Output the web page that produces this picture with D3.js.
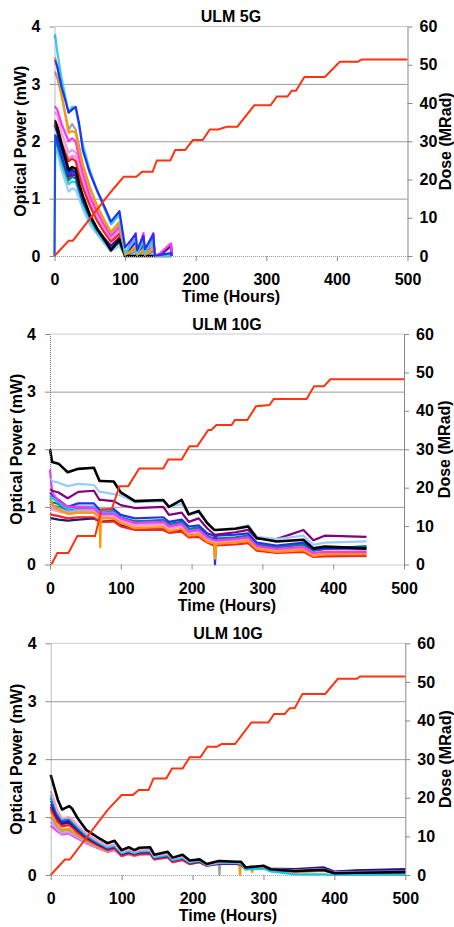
<!DOCTYPE html>
<html>
<head>
<meta charset="utf-8">
<script src="https://cdn.jsdelivr.net/npm/d3@7"></script>
<style>
  body { margin: 0; background: #fff; }
  svg text { font-family: "Liberation Sans", Arial, sans-serif; font-weight: bold; fill: #000; }
</style>
</head>
<body>
<div id="chart"></div>
<script>
// ======= Data: ULM 5G =======
var t1 = [0, 1, 4, 10, 20, 25, 30, 35, 40, 50, 60, 70, 80, 92, 100, 115, 117, 126, 128, 140, 142, 150, 165, 166];
var p1_skyblue  = [3.8, 3.85, 3.55, 3.1, 2.5, 2.6, 2.58, 2.25, 1.95, 1.5, 1.15, 0.85, 0.55, 0.72, 0.05, 0.3, 0.05, 0.25, 0.05, 0.28, 0, 0, 0, 0];
var p1_blue     = [3.4, 3.4, 3.3, 2.95, 2.5, 2.55, 2.6, 2.3, 1.85, 1.45, 1.15, 0.88, 0.6, 0.78, 0.15, 0.38, 0.1, 0.35, 0.12, 0.38, 0, 0.02, 0.05, 0];
var p1_orange   = [3.45, 3.45, 3.3, 2.8, 2.15, 2.18, 2.15, 1.85, 1.58, 1.18, 0.88, 0.64, 0.42, 0.6, 0.02, 0.15, 0.02, 0.12, 0.02, 0.15, 0, 0, 0, 0];
var p1_gray     = [3.2, 3.2, 3.1, 2.8, 2.2, 2.3, 2.2, 1.9, 1.6, 1.2, 0.88, 0.62, 0.4, 0.55, 0.02, 0.1, 0, 0.1, 0, 0.12, 0, 0, 0, 0];
var p1_magenta  = [2.6, 2.6, 2.55, 2.3, 2.0, 2.05, 2.0, 1.7, 1.45, 1.05, 0.78, 0.55, 0.35, 0.5, 0.02, 0.4, 0.05, 0.4, 0.05, 0.4, 0, 0.05, 0.22, 0];
var p1_pink     = [2.5, 2.5, 2.45, 2.15, 1.8, 1.85, 1.8, 1.55, 1.35, 1.0, 0.72, 0.5, 0.32, 0.45, 0.02, 0.2, 0.02, 0.2, 0.02, 0.22, 0, 0.02, 0.15, 0];
var p1_lavender = [2.3, 2.3, 2.25, 2.0, 1.7, 1.75, 1.72, 1.5, 1.3, 0.95, 0.7, 0.48, 0.3, 0.42, 0.02, 0.2, 0.02, 0.2, 0.02, 0.2, 0, 0.05, 0.2, 0];
var p1_red      = [2.25, 2.3, 2.2, 1.95, 1.65, 1.7, 1.65, 1.4, 1.2, 0.88, 0.62, 0.42, 0.25, 0.38, 0.01, 0.1, 0, 0.1, 0, 0.1, 0, 0, 0, 0];
var p1_black    = [2.35, 2.35, 2.25, 1.95, 1.5, 1.55, 1.52, 1.25, 1.05, 0.72, 0.48, 0.3, 0.1, 0.28, 0, 0, 0, 0, 0, 0, 0, 0, 0, 0];
var p1_navy     = [2.25, 2.25, 2.15, 1.85, 1.45, 1.5, 1.45, 1.2, 1.0, 0.7, 0.48, 0.3, 0.15, 0.3, 0.02, 0.25, 0.02, 0.22, 0.02, 0.3, 0, 0.02, 0.18, 0];
var p1_purple   = [2.1, 2.1, 2.05, 1.75, 1.38, 1.42, 1.4, 1.18, 0.98, 0.7, 0.48, 0.32, 0.18, 0.32, 0.02, 0.2, 0.02, 0.25, 0.02, 0.3, 0, 0.02, 0.2, 0];
var p1_teal     = [2.0, 2.0, 1.95, 1.7, 1.32, 1.38, 1.35, 1.15, 0.95, 0.68, 0.46, 0.3, 0.15, 0.25, 0.02, 0.15, 0.02, 0.15, 0.02, 0.2, 0, 0, 0, 0];
var p1_aqua     = [1.95, 1.95, 1.9, 1.6, 1.25, 1.3, 1.28, 1.1, 0.9, 0.62, 0.42, 0.26, 0.12, 0.22, 0.01, 0.08, 0, 0.08, 0, 0.1, 0, 0, 0, 0];
var p1_lightblue= [1.85, 1.85, 1.8, 1.5, 1.12, 1.18, 1.15, 1.0, 0.82, 0.55, 0.38, 0.22, 0.08, 0.18, 0, 0.05, 0, 0.05, 0, 0.05, 0, 0, 0, 0];
var p1_royal    = [0, 2.1, 2.0, 1.78, 1.42, 1.46, 1.44, 1.2, 1.0, 0.7, 0.47, 0.3, 0.14, 0.28, 0.01, 0.12, 0.01, 0.12, 0.01, 0.15, 0, 0, 0, 0];
var dose1Time = [0, 20, 26, 80, 98, 116, 124, 139, 145, 164, 171, 185, 196, 210, 220, 232, 244, 259, 283, 306, 315, 330, 336, 342, 354, 383, 404, 430, 435, 500];
var dose1     = [0, 4, 4, 16.8, 20.7, 20.7, 22, 22, 25, 25, 27.7, 27.7, 30.3, 30.3, 33.1, 33.1, 33.8, 33.8, 39.4, 39.4, 41.7, 41.7, 43.2, 43.2, 46.8, 46.8, 50.8, 50.8, 51.4, 51.4];

// ======= Data: ULM 10G (first) =======
var t2 = [0, 3, 12, 25, 40, 62, 70, 71, 72, 90, 100, 120, 160, 168, 186, 196, 210, 222, 232, 233, 235, 262, 280, 292, 320, 358, 372, 388, 447];
var p2_black    = [2.0, 1.78, 1.75, 1.6, 1.66, 1.68, 1.45, 1.45, 1.45, 1.44, 1.25, 1.1, 1.12, 1.0, 1.12, 0.87, 0.93, 0.72, 0.6, 0.6, 0.6, 0.62, 0.66, 0.46, 0.4, 0.43, 0.28, 0.31, 0.28];
var p2_lightblue= [1.5, 1.45, 1.42, 1.36, 1.4, 1.38, 1.26, 1.26, 1.26, 1.22, 1.2, 1.08, 1.1, 1.0, 1.05, 0.86, 0.9, 0.72, 0.6, 0.6, 0.6, 0.63, 0.68, 0.48, 0.44, 0.5, 0.34, 0.38, 0.4];
var p2_purple   = [1.3, 1.28, 1.25, 1.15, 1.26, 1.28, 1.12, 1.12, 1.12, 1.1, 1.03, 0.98, 1.0, 0.86, 0.9, 0.74, 0.8, 0.63, 0.52, 0.52, 0.52, 0.56, 0.6, 0.45, 0.44, 0.6, 0.42, 0.5, 0.48];
var p2_blue     = [1.25, 1.2, 1.12, 1.0, 1.06, 1.06, 0.95, 0.95, 0.95, 0.96, 0.86, 0.8, 0.82, 0.74, 0.78, 0.66, 0.68, 0.54, 0.5, 0.0, 0.5, 0.52, 0.54, 0.38, 0.33, 0.38, 0.26, 0.28, 0.27];
var p2_teal     = [1.1, 1.08, 1.05, 0.95, 1.0, 1.0, 0.9, 0.9, 0.9, 0.92, 0.82, 0.75, 0.77, 0.7, 0.74, 0.62, 0.64, 0.5, 0.45, 0.45, 0.45, 0.47, 0.5, 0.34, 0.3, 0.35, 0.24, 0.27, 0.32];
var p2_cyan     = [1.2, 1.15, 1.08, 0.96, 1.0, 1.0, 0.9, 0.9, 0.9, 0.9, 0.8, 0.72, 0.74, 0.66, 0.7, 0.58, 0.6, 0.46, 0.41, 0.41, 0.41, 0.43, 0.46, 0.3, 0.26, 0.28, 0.16, 0.18, 0.14];
var p2_orange   = [1.15, 1.05, 0.95, 0.88, 0.9, 0.9, 0.8, 0.3, 0.8, 0.8, 0.72, 0.63, 0.65, 0.58, 0.62, 0.5, 0.52, 0.4, 0.36, 0.1, 0.36, 0.38, 0.41, 0.27, 0.22, 0.25, 0.15, 0.18, 0.18];
var p2_gray     = [1.0, 0.98, 0.96, 0.92, 0.95, 0.95, 0.86, 0.86, 0.86, 0.86, 0.78, 0.7, 0.72, 0.64, 0.68, 0.56, 0.58, 0.45, 0.4, 0.4, 0.4, 0.42, 0.45, 0.3, 0.26, 0.3, 0.2, 0.22, 0.22];
var p2_pink     = [0.98, 0.95, 0.92, 0.88, 0.9, 0.9, 0.82, 0.82, 0.82, 0.83, 0.75, 0.67, 0.69, 0.62, 0.66, 0.54, 0.56, 0.43, 0.38, 0.38, 0.38, 0.4, 0.43, 0.29, 0.24, 0.27, 0.18, 0.2, 0.2];
var p2_lavender = [1.05, 1.0, 0.97, 0.9, 0.93, 0.93, 0.84, 0.84, 0.84, 0.85, 0.77, 0.7, 0.71, 0.63, 0.67, 0.55, 0.57, 0.44, 0.39, 0.39, 0.39, 0.41, 0.44, 0.3, 0.25, 0.28, 0.19, 0.21, 0.23];
var p2_red      = [0.88, 0.86, 0.84, 0.8, 0.82, 0.82, 0.74, 0.74, 0.74, 0.75, 0.66, 0.6, 0.6, 0.55, 0.57, 0.47, 0.48, 0.38, 0.33, 0.33, 0.33, 0.35, 0.37, 0.24, 0.2, 0.22, 0.13, 0.14, 0.15];
var p2_navy     = [0.8, 0.8, 0.78, 0.76, 0.78, 0.8, 0.74, 0.74, 0.74, 0.76, 0.68, 0.62, 0.63, 0.57, 0.6, 0.5, 0.52, 0.41, 0.37, 0.37, 0.37, 0.39, 0.42, 0.28, 0.24, 0.27, 0.18, 0.2, 0.2];
var p2_magenta  = [1.65, 1.25, 1.1, 1.0, 1.0, 0.98, 0.88, 0.88, 0.88, 0.88, 0.8, 0.72, 0.74, 0.66, 0.7, 0.57, 0.6, 0.47, 0.42, 0.42, 0.42, 0.44, 0.47, 0.32, 0.27, 0.3, 0.2, 0.22, 0.22];
var p2_green    = [1.05, 1.02, 1.0, 0.95, 0.98, 0.98, 0.88, 0.88, 0.88, 0.88, 0.8, 0.74, 0.76, 0.7, 0.72, 0.6, 0.62, 0.49, 0.44, 0.44, 0.44, 0.46, 0.49, 0.34, 0.3, 0.34, 0.24, 0.27, 0.3];
var dose2Time = [2, 10.4, 26, 38.6, 63.6, 73, 87, 98, 110.6, 126, 160, 167, 186, 197, 208, 223.6, 228, 235, 256.6, 261, 278.7, 291, 310, 316, 362.5, 373, 387, 396, 500];
var dose2     = [0, 3, 3, 7.4, 7.4, 14.3, 14.3, 20.4, 20.4, 25, 25, 27.3, 27.3, 30.8, 30.8, 35, 35, 36.3, 36.3, 37.6, 37.6, 41.2, 41.5, 43.1, 43.1, 46.4, 46.4, 48.2, 48.2];

// ======= Data: ULM 10G (second) =======
var t3 = [0, 3, 10, 16, 26, 30, 38, 50, 65, 80, 90, 100, 110, 118, 125, 140, 146, 165, 172, 186, 196, 210, 220, 237, 238, 239, 262, 266, 267, 268, 275, 283, 284, 285, 300, 310, 345, 385, 400, 430, 500];
var p3_black    = [1.73, 1.6, 1.3, 1.13, 1.19, 1.15, 0.98, 0.78, 0.66, 0.55, 0.59, 0.43, 0.48, 0.43, 0.47, 0.48, 0.35, 0.4, 0.3, 0.35, 0.25, 0.27, 0.19, 0.24, 0.24, 0.24, 0.23, 0.23, 0.23, 0.23, 0.13, 0.14, 0.14, 0.14, 0.16, 0.1, 0.07, 0.09, 0.03, 0.04, 0.05];
var p3_pink     = [1.45, 1.35, 1.1, 0.98, 1.0, 0.96, 0.86, 0.72, 0.6, 0.5, 0.53, 0.4, 0.44, 0.4, 0.43, 0.44, 0.33, 0.37, 0.28, 0.32, 0.23, 0.26, 0.18, 0.22, 0.22, 0.22, 0.22, 0.22, 0.22, 0.22, 0.13, 0.14, 0.14, 0.14, 0.15, 0.1, 0.08, 0.1, 0.04, 0.05, 0.06];
var p3_cyan     = [1.38, 1.3, 1.08, 0.97, 0.99, 0.94, 0.84, 0.7, 0.58, 0.48, 0.51, 0.38, 0.42, 0.38, 0.41, 0.42, 0.31, 0.35, 0.26, 0.3, 0.22, 0.25, 0.17, 0.21, 0.21, 0.21, 0.21, 0.2, 0.2, 0.2, 0.1, 0.1, 0.1, 0.1, 0.12, 0.06, 0.01, 0.01, 0, 0, 0];
var p3_teal     = [1.33, 1.26, 1.05, 0.95, 0.97, 0.92, 0.82, 0.68, 0.57, 0.47, 0.5, 0.37, 0.41, 0.37, 0.4, 0.41, 0.3, 0.34, 0.26, 0.3, 0.21, 0.24, 0.17, 0.21, 0.21, 0.21, 0.21, 0.2, 0.2, 0.2, 0.11, 0.12, 0.12, 0.12, 0.13, 0.09, 0.07, 0.09, 0.03, 0.04, 0.05];
var p3_blue     = [1.28, 1.22, 1.02, 0.92, 0.95, 0.9, 0.8, 0.67, 0.56, 0.46, 0.49, 0.37, 0.41, 0.37, 0.4, 0.41, 0.3, 0.34, 0.25, 0.29, 0.21, 0.24, 0.17, 0.2, 0.2, 0.2, 0.2, 0.19, 0.19, 0.19, 0.11, 0.12, 0.12, 0.12, 0.13, 0.09, 0.08, 0.1, 0.05, 0.06, 0.07];
var p3_navy     = [1.22, 1.18, 1.0, 0.9, 0.92, 0.88, 0.78, 0.66, 0.55, 0.46, 0.49, 0.36, 0.4, 0.37, 0.39, 0.4, 0.3, 0.33, 0.26, 0.29, 0.21, 0.24, 0.18, 0.2, 0.2, 0.2, 0.2, 0.19, 0.19, 0.19, 0.12, 0.13, 0.13, 0.13, 0.14, 0.11, 0.1, 0.13, 0.06, 0.08, 0.1];
var p3_purple   = [1.18, 1.12, 0.96, 0.88, 0.9, 0.86, 0.77, 0.65, 0.54, 0.45, 0.48, 0.36, 0.4, 0.36, 0.39, 0.4, 0.29, 0.33, 0.25, 0.29, 0.2, 0.23, 0.17, 0.2, 0.2, 0.2, 0.2, 0.19, 0.19, 0.19, 0.12, 0.13, 0.13, 0.13, 0.14, 0.1, 0.09, 0.12, 0.05, 0.07, 0.09];
var p3_red      = [1.15, 1.08, 0.92, 0.84, 0.86, 0.82, 0.73, 0.62, 0.52, 0.43, 0.46, 0.33, 0.37, 0.34, 0.36, 0.37, 0.27, 0.31, 0.22, 0.26, 0.19, 0.22, 0.16, 0.19, 0.19, 0.19, 0.19, 0.18, 0.18, 0.18, 0.1, 0.11, 0.11, 0.11, 0.12, 0.08, 0.06, 0.08, 0.04, 0.05, 0.06];
var p3_orange   = [1.1, 1.02, 0.85, 0.78, 0.8, 0.76, 0.7, 0.6, 0.5, 0.42, 0.45, 0.34, 0.38, 0.34, 0.37, 0.38, 0.28, 0.32, 0.23, 0.27, 0.19, 0.22, 0.16, 0.19, 0.19, 0.19, 0.19, 0.18, 0, 0.18, 0.1, 0.1, 0.05, 0.1, 0.11, 0.07, 0.05, 0.07, 0.03, 0.04, 0.05];
var p3_gray     = [1.0, 0.95, 0.82, 0.76, 0.78, 0.74, 0.68, 0.58, 0.49, 0.42, 0.45, 0.34, 0.38, 0.34, 0.37, 0.38, 0.28, 0.32, 0.23, 0.27, 0.2, 0.23, 0.17, 0.2, 0, 0.2, 0.2, 0.19, 0.19, 0.19, 0.11, 0.12, 0.12, 0.12, 0.13, 0.08, 0.06, 0.08, 0.03, 0.04, 0.05];
var p3_lavender = [0.92, 0.88, 0.78, 0.72, 0.74, 0.7, 0.65, 0.56, 0.48, 0.41, 0.44, 0.33, 0.37, 0.33, 0.36, 0.37, 0.27, 0.31, 0.23, 0.27, 0.2, 0.23, 0.17, 0.2, 0.2, 0.2, 0.2, 0.19, 0.19, 0.19, 0.11, 0.12, 0.12, 0.12, 0.13, 0.09, 0.08, 0.1, 0.04, 0.06, 0.07];
var p3_magenta  = [0.85, 0.82, 0.75, 0.7, 0.72, 0.68, 0.63, 0.55, 0.47, 0.4, 0.43, 0.33, 0.36, 0.33, 0.35, 0.36, 0.27, 0.3, 0.22, 0.26, 0.19, 0.22, 0.16, 0.19, 0.19, 0.19, 0.19, 0.18, 0.18, 0.18, 0.1, 0.11, 0.11, 0.11, 0.12, 0.08, 0.07, 0.09, 0.04, 0.05, 0.06];
var dose3Time = [0, 20, 27, 80, 100, 116, 124, 138, 145, 163, 171, 186, 196, 211, 221, 234, 241, 260, 283, 307, 315, 330, 337, 344, 355, 387, 405, 432, 436, 500];
var dose3     = [0, 4, 4, 16.8, 20.7, 20.7, 22, 22, 25, 25, 27.6, 27.6, 30.5, 30.5, 33.2, 33.2, 33.9, 33.9, 39.5, 39.5, 41.7, 41.7, 43.2, 43.2, 46.9, 46.9, 50.8, 50.8, 51.4, 51.4];

var xTicks = [0, 100, 200, 300, 400, 500];
var powerTicks = [0, 1, 2, 3, 4];
var doseTicks = [0, 10, 20, 30, 40, 50, 60];

// Line colours (Excel style palette)
var colors = {
    skyblue: "#33ccff", blue: "#2233ee", orange: "#ff9900", gray: "#a0a0a0",
    magenta: "#ff33ff", pink: "#ff99cc", lavender: "#cc99ff", red: "#ff2222",
    black: "#000000", navy: "#1a1a7a", purple: "#800080", teal: "#008080",
    aqua: "#33cccc", lightblue: "#99ccff", royal: "#0044ff", cyan: "#00ccff",
    green: "#339966"
};

// Panel layout: boxes
var panels = [
    { left: 54.5, right: 407.5, top: 26.5, bottom: 256, title: "ULM 5G", times: t1,
      series: [["lightblue", p1_lightblue], ["aqua", p1_aqua], ["teal", p1_teal], ["purple", p1_purple],
               ["lavender", p1_lavender], ["pink", p1_pink], ["red", p1_red], ["navy", p1_navy],
               ["royal", p1_royal], ["magenta", p1_magenta], ["gray", p1_gray], ["black", p1_black],
               ["orange", p1_orange], ["skyblue", p1_skyblue], ["blue", p1_blue]],
      doseTime: dose1Time, dose: dose1 },
    { left: 50, right: 404, top: 334, bottom: 564.5, title: "ULM 10G", times: t2,
      series: [["navy", p2_navy], ["green", p2_green], ["teal", p2_teal], ["blue", p2_blue], ["cyan", p2_cyan],
               ["gray", p2_gray], ["lavender", p2_lavender], ["pink", p2_pink], ["magenta", p2_magenta],
               ["red", p2_red], ["orange", p2_orange], ["purple", p2_purple], ["lightblue", p2_lightblue],
               ["black", p2_black]],
      doseTime: dose2Time, dose: dose2 },
    { left: 50.7, right: 405.3, top: 643.3, bottom: 875, title: "ULM 10G", times: t3,
      series: [["magenta", p3_magenta], ["lavender", p3_lavender], ["gray", p3_gray], ["orange", p3_orange],
               ["red", p3_red], ["purple", p3_purple], ["navy", p3_navy], ["blue", p3_blue], ["teal", p3_teal],
               ["cyan", p3_cyan], ["pink", p3_pink], ["black", p3_black]],
      doseTime: dose3Time, dose: dose3 }
];

var svg = d3.select("#chart").append("svg")
    .attr("width", 454)
    .attr("height", 927);

function styleAxis(a) {
    a.attr("font-size", 16)
     .attr("font-family", "Liberation Sans, Arial, sans-serif")
     .attr("font-weight", "bold");
    a.selectAll(".tick line").attr("stroke", "#888");
    a.selectAll(".tick text").attr("fill", "#000");
}

function drawPanel(p) {
    var width = p.right - p.left;
    var x = d3.scaleLinear().domain([0, 500]).range([p.left, p.right]);
    var y = d3.scaleLinear().domain([0, 4]).range([p.bottom, p.top]);
    var yDose = d3.scaleLinear().domain([0, 60]).range([p.bottom, p.top]);
    var g = svg.append("g");

    // Gridlines at 1, 2, 3
    g.append("g")
        .attr("transform", "translate(" + p.left + ",0)")
        .call(d3.axisLeft(y).tickValues([1, 2, 3]).tickSize(-width).tickFormat(""))
        .call(function(a) { a.select(".domain").remove(); })
        .selectAll("line").attr("stroke", "#9a9a9a").attr("stroke-width", 1);

    // Top border at 4
    g.append("line")
        .attr("x1", p.left).attr("x2", p.right)
        .attr("y1", y(4)).attr("y2", y(4))
        .attr("stroke", "#c8c8d8").attr("stroke-width", 1);

    // Optical power traces
    p.series.forEach(function(s) {
        var line = d3.line()
            .x(function(d, i) { return x(p.times[i]); })
            .y(function(d) { return y(d); });
        g.append("path")
            .datum(s[1])
            .attr("d", line)
            .attr("fill", "none")
            .attr("stroke", colors[s[0]])
            .attr("stroke-width", s[0] == "black" ? 2.6 : 2.2)
            .attr("stroke-linejoin", "round");
    });

    // Dose line (right axis)
    var doseLine = d3.line()
        .x(function(d, i) { return x(p.doseTime[i]); })
        .y(function(d) { return yDose(d); });
    g.append("path")
        .datum(p.dose)
        .attr("d", doseLine)
        .attr("fill", "none")
        .attr("stroke", "#ff3311")
        .attr("stroke-width", 2);

    // X axis
    var xa = g.append("g")
        .attr("transform", "translate(0," + p.bottom + ")")
        .call(d3.axisBottom(x).tickValues(xTicks).tickFormat(d3.format("d"))
            .tickSize(5).tickPadding(13).tickSizeOuter(0));
    styleAxis(xa);
    xa.select(".domain").attr("stroke", "#999").attr("stroke-dasharray", "1,1");

    // Left axis
    var ya = g.append("g")
        .attr("transform", "translate(" + p.left + ",0)")
        .call(d3.axisLeft(y).tickValues(powerTicks).tickFormat(d3.format("d"))
            .tickSize(5).tickPadding(9).tickSizeOuter(0));
    styleAxis(ya);
    ya.select(".domain").attr("stroke", "#777").attr("stroke-dasharray", "1,1");

    // Right axis
    var ra = g.append("g")
        .attr("transform", "translate(" + p.right + ",0)")
        .call(d3.axisRight(yDose).tickValues(doseTicks).tickFormat(d3.format("d"))
            .tickSize(5).tickPadding(7).tickSizeOuter(0));
    styleAxis(ra);
    ra.select(".domain").attr("stroke", "#888");

    // Title
    g.append("text")
        .attr("x", (p.left + p.right) / 2)
        .attr("y", p.top - 4.3)
        .attr("text-anchor", "middle")
        .attr("font-size", 16)
        .text(p.title);

    // X legend
    g.append("text")
        .attr("x", (p.left + p.right) / 2)
        .attr("y", p.bottom + 46)
        .attr("text-anchor", "middle")
        .attr("font-size", 16)
        .text("Time (Hours)");

    // Y legends
    var mid = (p.top + p.bottom) / 2;
    g.append("text")
        .attr("transform", "translate(" + (p.left - 34) + "," + mid + ") rotate(-90)")
        .attr("dy", "0.35em")
        .attr("text-anchor", "middle")
        .attr("font-size", 16)
        .text("Optical Power (mW)");
    g.append("text")
        .attr("transform", "translate(" + Math.min(p.right + 40, 445.5) + "," + mid + ") rotate(-90)")
        .attr("dy", "0.35em")
        .attr("text-anchor", "middle")
        .attr("font-size", 16)
        .text("Dose (MRad)");
}

panels.forEach(drawPanel);
</script>
</body>
</html>
